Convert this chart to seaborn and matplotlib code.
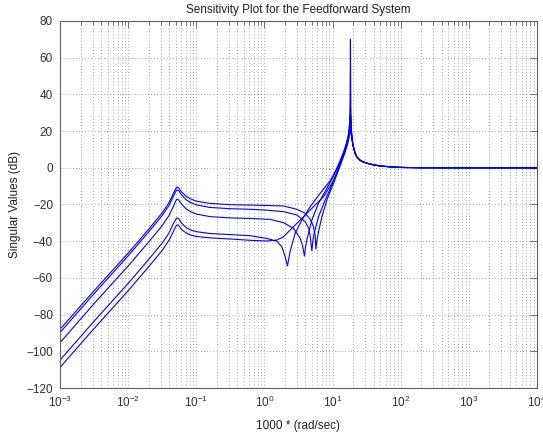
import numpy as np
import pandas as pd
import matplotlib
matplotlib.use("Agg")
import matplotlib.pyplot as plt
import seaborn as sns
from matplotlib.ticker import LogLocator, NullFormatter

# ---- data (log10 of frequency, singular value in dB) ----
lo_logf = [-3, -2.5, -2, -1.7, -1.5, -1.4, -1.33, -1.29, -1.26, -1.22, -1.15, -1.09, -1.0, -0.8, -0.5, -0.21]

c1_lo = [-88, -67, -46.5, -33.5, -24.5, -19, -13.5, -10.6, -10.8, -13, -15.5, -16.8, -18.2, -19.4, -20.1, -20.3]
c2_lo = [-89.8, -68.6, -48, -35, -26, -20.5, -15, -12.1, -12.3, -14.6, -17.4, -18.8, -20.2, -21.6, -22.3, -22.6]
c3_lo = [-95.3, -74, -53.5, -40.5, -31.5, -26, -20.5, -17.2, -17.4, -19.6, -22.4, -23.8, -25.2, -26.6, -27.3, -27.6]
c4_lo = [-104.8, -83.6, -63, -50, -41, -35.5, -30, -27.4, -27.6, -30, -32.5, -33.8, -34.8, -35.8, -36.4, -37]
c5_lo = [-108.8, -87.6, -67, -54, -45, -39.5, -34.2, -31.2, -31.3, -33.5, -35.5, -36.6, -37.4, -38.2, -38.8, -39.5]

c1_hi_logf = [0.0, 0.279, 0.476, 0.598, 0.671, 0.72, 0.745, 0.755, 0.768, 0.793, 0.843, 0.916, 1.013, 1.08, 1.13, 1.18, 1.22, 1.245, 1.256, 1.262, 1.268, 1.28, 1.298]
c1_hi_db = [-20.5, -20.8, -22.6, -24.8, -28, -32, -37, -44.3, -40, -35, -26.7, -17.6, -8.5, -2, 3, 8, 13, 20, 30, 70, 30, 18, 12.5]

c2_hi_logf = [0.0, 0.279, 0.476, 0.598, 0.65, 0.671, 0.696, 0.71, 0.73, 0.793, 0.891, 0.99, 1.06, 1.12, 1.17, 1.21, 1.24, 1.255, 1.262, 1.268, 1.28, 1.298]
c2_hi_db = [-23, -23.9, -25.7, -29.4, -33, -37, -45.2, -40, -35.7, -26.7, -17.6, -9.4, -3, 3, 8, 13, 19, 27, 34, 28, 18, 12.5]

c3_hi_logf = [0.084, 0.279, 0.426, 0.524, 0.56, 0.587, 0.6, 0.622, 0.696, 0.793, 0.916, 1.0, 1.06, 1.12, 1.17, 1.21, 1.24, 1.256, 1.262, 1.27, 1.28, 1.298]
c3_hi_db = [-28.1, -29.9, -33, -38.4, -42.5, -48.1, -44, -39.4, -28.5, -19.4, -11.2, -5.5, -1, 4, 9, 14, 20, 25, 29, 24, 18, 12.5]

c4_hi_logf = [0.035, 0.182, 0.255, 0.304, 0.338, 0.36, 0.377, 0.451, 0.549, 0.671, 0.818, 0.965, 1.04, 1.10, 1.16, 1.20, 1.24, 1.256, 1.262, 1.27, 1.28, 1.298]
c4_hi_db = [-38.5, -40, -43, -48.4, -53.5, -49, -45.5, -35.7, -28.5, -21.2, -13.9, -7, -2, 3, 8.5, 13, 18, 22, 25, 22, 17.5, 12.5]

c5_hi_logf = [0.035, 0.182, 0.279, 0.426, 0.573, 0.72, 0.867, 1.013, 1.07, 1.12, 1.17, 1.21, 1.24, 1.256, 1.262, 1.27, 1.28, 1.298]
c5_hi_db = [-39.9, -39.4, -37.6, -32.1, -26.7, -21.2, -15.8, -7, -2, 3, 8, 12, 16, 19, 21, 19.5, 16.5, 12.5]

tail_logf = [1.33, 1.357, 1.40, 1.45, 1.504, 1.6, 1.7, 1.85, 2.0, 2.3, 2.7, 4.0]
tail_db = [8.0, 5.8, 4.2, 3.2, 2.5, 1.6, 1.0, 0.5, 0.2, 0.04, 0.0, 0.0]

curves = {
    "c1": (c1_lo, c1_hi_logf, c1_hi_db),
    "c2": (c2_lo, c2_hi_logf, c2_hi_db),
    "c3": (c3_lo, c3_hi_logf, c3_hi_db),
    "c4": (c4_lo, c4_hi_logf, c4_hi_db),
    "c5": (c5_lo, c5_hi_logf, c5_hi_db),
}

rows = []
for name, (lo, hlf, hdb) in curves.items():
    lf = list(lo_logf) + list(hlf) + list(tail_logf)
    db = list(lo) + list(hdb) + list(tail_db)
    for a, b in zip(lf, db):
        rows.append({"curve": name, "freq": 10.0 ** a, "db": b})
df = pd.DataFrame(rows)

title_text = "Sensitivity Plot for the Feedforward System"
xlabel_text = "1000 * (rad/sec)"
ylabel_text = "Singular Values (dB)"
yticks = [-120, -100, -80, -60, -40, -20, 0, 20, 40, 60, 80]

# ---- plotting ----
sns.set_style("white")
plt.rcParams["font.family"] = ["Liberation Sans", "DejaVu Sans"]
plt.rcParams["mathtext.fontset"] = "custom"
plt.rcParams["mathtext.rm"] = "Liberation Sans"

fig = plt.figure(figsize=(5.43, 4.40), dpi=100)
ax = fig.add_axes([60 / 543, 1 - 388 / 440, (537 - 60) / 543, (388 - 21) / 440])

sns.lineplot(data=df, x="freq", y="db", units="curve", estimator=None,
             sort=False, color="#0000ff", linewidth=0.8, ax=ax, legend=False)

ax.set_xscale("log")
ax.set_xlim(1e-3, 1e4)
ax.set_ylim(-120, 80)
ax.set_yticks(yticks)
ax.xaxis.set_major_locator(LogLocator(base=10, numticks=20))
ax.xaxis.set_minor_locator(LogLocator(base=10, subs=np.arange(2, 10), numticks=100))
ax.xaxis.set_minor_formatter(NullFormatter())

grid_kw = dict(color="#555555", linestyle=(0, (1, 3.5)), linewidth=0.5)
ax.grid(True, which="major", axis="both", **grid_kw)
ax.grid(True, which="minor", axis="x", **grid_kw)
ax.set_axisbelow(True)

for s in ax.spines.values():
    s.set_visible(True)
    s.set_color("#606060")
    s.set_linewidth(0.8)

ax.tick_params(which="both", direction="in", top=True, right=True,
               colors="#606060", labelcolor="#303030", labelsize=8.5, width=0.6)
ax.tick_params(which="major", length=5, pad=5)
ax.tick_params(which="minor", length=3)

ax.set_title(title_text, fontsize=8.5, color="#202020", pad=6)
ax.set_xlabel(xlabel_text, fontsize=8.5, color="#202020", labelpad=7)
ax.set_ylabel(ylabel_text, fontsize=8.5, color="#202020", labelpad=4)

fig.savefig("out.png", dpi=100, facecolor="white")
